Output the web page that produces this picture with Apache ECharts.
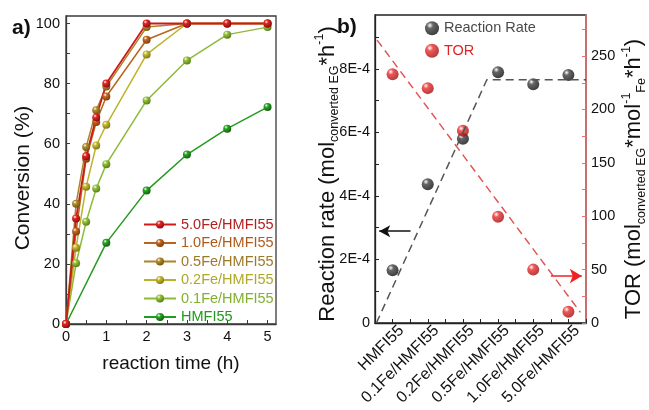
<!DOCTYPE html>
<html><head><meta charset="utf-8">
<script src="https://cdn.jsdelivr.net/npm/echarts@6/dist/echarts.min.js"></script>
<style>html,body{margin:0;padding:0;background:#fff}#c{width:649px;height:410px}</style>
</head><body><div id="c"></div><script>
// ---- Panel a) data ----
const timeH = [0, 0.25, 0.5, 0.75, 1, 2, 3, 4, 5];
const timeHMFI = [0, 1, 2, 3, 4, 5];
const conv50 = [0, 35.1, 55.8, 68.7, 80.0, 100, 100, 100, 100];
const conv10 = [0, 30.8, 55.0, 67.2, 75.7, 94.6, 100, 100, 100];
const conv05 = [0, 40.0, 58.9, 71.1, 79.0, 98.8, 100, 100, 100];
const conv02 = [0, 25.4, 45.7, 59.4, 66.3, 89.7, 100, 100, 100];
const conv01 = [0, 20.2, 34.0, 45.1, 53.2, 74.4, 87.7, 96.3, 98.8];
const convHMFI = [0, 27.0, 44.4, 56.4, 65.0, 72.2];
const namesA = ['5.0Fe/HMFI55', '1.0Fe/HMFI55', '0.5Fe/HMFI55', '0.2Fe/HMFI55', '0.1Fe/HMFI55', 'HMFI55'];

// ---- Panel b) data ----
const catsB = ['HMFI55', '0.1Fe/HMFI55', '0.2Fe/HMFI55', '0.5Fe/HMFI55', '1.0Fe/HMFI55', '5.0Fe/HMFI55'];
const rateB = [1.66e-4, 4.37e-4, 5.80e-4, 7.90e-4, 7.52e-4, 7.81e-4];
const torB = [233, 220, 180, 99.5, 50, 10.5];
const rateTrend = [[-0.46, 0], [2.68, 7.66e-4], [5.5, 7.66e-4]];
const torTrend = [[-0.44, 265], [5.34, 10]];
const rateArrow = [[0.51, 2.89e-4], [-0.38, 2.89e-4]];
const torArrow = [[4.5, 44], [5.38, 44]];

function ball(c, dark) {
  return new echarts.graphic.RadialGradient(0.35, 0.3, 0.75, [
    {offset: 0, color: '#ffffff'}, {offset: 0.3, color: c}, {offset: 1, color: dark}]);
}
function pairs(xs, ys) { return xs.map((x, i) => [x, ys[i]]); }

const colA = {
  '5.0Fe/HMFI55': {line: '#cc1a1a', ball: '#e52424', dark: '#8a0c0c', text: '#b41e1e', w: 1.8, data: conv50},
  '1.0Fe/HMFI55': {line: '#b9651f', ball: '#c46a22', dark: '#7a3a0a', text: '#b05a1a', w: 1.5, data: conv10},
  '0.5Fe/HMFI55': {line: '#a8852a', ball: '#b08c2c', dark: '#6e5410', text: '#9c7a28', w: 1.5, data: conv05},
  '0.2Fe/HMFI55': {line: '#bdb22e', ball: '#c4ba32', dark: '#7c7410', text: '#b0a828', w: 1.5, data: conv02},
  '0.1Fe/HMFI55': {line: '#8cba38', ball: '#94c23c', dark: '#557a14', text: '#84b030', w: 1.5, data: conv01},
  'HMFI55': {line: '#239b1e', ball: '#2aa824', dark: '#0e5a0a', text: '#1f9a1a', w: 1.5, data: convHMFI}
};

const seriesA = namesA.slice().reverse().map(n => ({
  name: n, type: 'line', xAxisIndex: 0, yAxisIndex: 0,
  data: pairs(n === 'HMFI55' ? timeHMFI : timeH, colA[n].data),
  symbol: 'circle', symbolSize: 8,
  lineStyle: {color: colA[n].line, width: colA[n].w},
  itemStyle: {color: ball(colA[n].ball, colA[n].dark)},
  emphasis: {disabled: true}
}));

const richName = {
  m: {fontSize: 22, lineHeight: 28, color: '#111', fontFamily: 'Liberation Sans'},
  sub: {fontSize: 12.5, lineHeight: 12, verticalAlign: 'bottom', color: '#111', fontFamily: 'Liberation Sans'},
  sup: {fontSize: 12.5, lineHeight: 12, verticalAlign: 'top', color: '#111', fontFamily: 'Liberation Sans'}
};

const font = 'Liberation Sans';
const option = {
  animation: false,
  textStyle: {fontFamily: font},
  grid: [
    {left: 66, top: 16, width: 210, height: 308, show: true, borderColor: '#3a3a3a', borderWidth: 1.3, containLabel: false, outerBoundsMode: 'none'},
    {left: 375, top: 15, width: 211, height: 308, show: true, borderColor: '#222', borderWidth: 1.3, containLabel: false, outerBoundsMode: 'none'}
  ],
  xAxis: [
    {type: 'value', gridIndex: 0, position: 'bottom', min: 0, max: 5.21, interval: 0.5,
     axisLine: {onZero: false, lineStyle: {color: '#3a3a3a', width: 1.3}},
     axisTick: {inside: true, length: 4, lineStyle: {color: '#3a3a3a'}},
     axisLabel: {fontSize: 14.5, color: '#111', margin: 5, showMaxLabel: false,
       formatter: v => (Math.abs(v - Math.round(v)) < 1e-6 ? String(Math.round(v)) : '')},
     splitLine: {show: false},
     name: 'reaction time (h)', nameLocation: 'middle', nameGap: 30, nameMoveOverlap: false,
     nameTextStyle: {fontSize: 19, color: '#111'}},
    {type: 'value', gridIndex: 1, position: 'bottom', min: -0.5, max: 5.5, interval: 0.5,
     axisLine: {onZero: false, lineStyle: {color: '#222', width: 1.3}},
     axisTick: {inside: true, length: 4, lineStyle: {color: '#222'}},
     axisLabel: {show: false},
     splitLine: {show: false}},
    // label-only axis for the rotated category names (slightly offset like the original)
    {type: 'value', gridIndex: 1, position: 'bottom', min: -0.75, max: 5.25, interval: 0.25,
     axisLine: {show: false, onZero: false}, axisTick: {show: false},
     axisLabel: {fontSize: 16, color: '#111', rotate: 45, margin: 5, showMinLabel: false, showMaxLabel: false,
       formatter: v => { const i = Math.round(v); return (Math.abs(v - i) < 1e-6 && i >= 0 && i <= 5) ? catsB[i] : ''; }},
     splitLine: {show: false}}
  ],
  yAxis: [
    {type: 'value', gridIndex: 0, min: 0, max: 102.5, interval: 10,
     axisLine: {show: true, onZero: false, lineStyle: {color: '#3a3a3a', width: 1.3}},
     axisTick: {show: true, inside: true, length: 4, lineStyle: {color: '#3a3a3a'}},
     axisLabel: {fontSize: 14.5, color: '#111', margin: 6, showMaxLabel: false,
       formatter: v => { const i = Math.round(v); return (Math.abs(v - i) < 1e-6 && i % 20 === 0) ? String(i) : ''; }},
     splitLine: {show: false},
     name: 'Conversion (%)', nameLocation: 'middle', nameGap: 32, nameRotate: 90, nameMoveOverlap: false,
     nameTextStyle: {fontSize: 21, color: '#111', padding: [0, 16, 0, 0]}},
    {type: 'value', gridIndex: 1, position: 'left', min: 0, max: 9.7e-4, interval: 1e-4,
     axisLine: {show: true, onZero: false, lineStyle: {color: '#222', width: 1.3}},
     axisTick: {show: true, inside: true, length: 4, lineStyle: {color: '#222'}},
     axisLabel: {fontSize: 14.5, color: '#111', margin: 5, showMaxLabel: false,
       formatter: v => { const n = v * 1e4; const i = Math.round(n); if (Math.abs(n - i) > 1e-6 || i % 2) return ''; return i === 0 ? '0' : i + 'E-4'; }},
     splitLine: {show: false},
     name: '{m|Reaction rate (mol}{sub|converted EG}{m|*h}{sup|-1}{m|)}', nameLocation: 'middle', nameGap: 33.5, nameRotate: 90, nameMoveOverlap: false,
     nameTextStyle: {rich: richName, padding: [0, 10, 0, 0]}},
    {type: 'value', gridIndex: 1, position: 'right', min: 0, max: 288.5, interval: 25,
     axisLine: {show: true, onZero: false, lineStyle: {color: '#e87070', width: 1.5}},
     axisTick: {show: true, inside: true, length: 4, lineStyle: {color: '#e87070'}},
     axisLabel: {fontSize: 14.5, color: '#111', margin: 5, showMaxLabel: false,
       formatter: v => { const i = Math.round(v); return (Math.abs(v - i) < 1e-6 && i % 50 === 0) ? String(i) : ''; }},
     splitLine: {show: false},
     name: '{m|TOR (mol}{sub|converted EG}{m|*mol}{sup|-1}{sub|Fe}{m|*h}{sup|-1}{m|)}', nameLocation: 'middle', nameGap: 34, nameRotate: 90, nameMoveOverlap: false,
     nameTextStyle: {rich: richName, padding: [0, 20, 0, 0]}}
  ],
  legend: [
    {orient: 'vertical', left: 143, top: 217, padding: 0, itemWidth: 32, itemHeight: 10, itemGap: 3.5, itemTextGap: 5,
     selectedMode: false,
     textStyle: {fontSize: 14.5, lineHeight: 14},
     data: namesA.map(n => ({name: n, textStyle: {color: colA[n].text}}))},
    {orient: 'vertical', left: 425, top: 20.7, padding: 0, itemWidth: 14, itemHeight: 14, itemGap: 7.6, itemTextGap: 8,
     selectedMode: false,
     textStyle: {fontSize: 14.5, lineHeight: 14},
     data: [{name: 'Reaction Rate', textStyle: {color: '#4a4a4a'}}, {name: 'TOR', textStyle: {color: '#e02424'}}]}
  ],
  graphic: [
    {type: 'text', left: 12, top: 18, style: {text: 'a)', font: 'bold 21px Liberation Sans', fill: '#111'}},
    {type: 'text', left: 337, top: 17, style: {text: 'b)', font: 'bold 21px Liberation Sans', fill: '#111'}}
  ],
  series: seriesA.concat([
    {name: 'rateTrend', type: 'line', xAxisIndex: 1, yAxisIndex: 1, data: rateTrend, showSymbol: false, symbol: 'none', silent: true,
     lineStyle: {color: '#555', width: 1.5, type: [8, 5]}},
    {name: 'torTrend', type: 'line', xAxisIndex: 1, yAxisIndex: 2, data: torTrend, showSymbol: false, symbol: 'none', silent: true,
     lineStyle: {color: '#e05555', width: 1.5, type: [8, 5]}},
    {name: 'Reaction Rate', type: 'scatter', xAxisIndex: 1, yAxisIndex: 1, data: pairs([0,1,2,3,4,5], rateB),
     symbol: 'circle', symbolSize: 12, itemStyle: {color: ball('#404040', '#0a0a0a')},
     markLine: {silent: true, symbol: ['none', 'arrow'], symbolSize: [9, 11], label: {show: false},
       lineStyle: {color: '#111', width: 1.5, type: 'solid'},
       data: [[{coord: rateArrow[0]}, {coord: rateArrow[1]}]]}},
    {name: 'TOR', type: 'scatter', xAxisIndex: 1, yAxisIndex: 2, data: pairs([0,1,2,3,4,5], torB),
     symbol: 'circle', symbolSize: 12, itemStyle: {color: ball('#ec2c2c', '#9a0c0c')},
     markLine: {silent: true, symbol: ['none', 'arrow'], symbolSize: [11, 12], label: {show: false},
       lineStyle: {color: '#ee2222', width: 1.5, type: 'solid'},
       data: [[{coord: torArrow[0]}, {coord: torArrow[1]}]]}}
  ])
};
const chart = echarts.init(document.getElementById('c'), null, {renderer: 'canvas'});
chart.setOption(option);
</script></body></html>
